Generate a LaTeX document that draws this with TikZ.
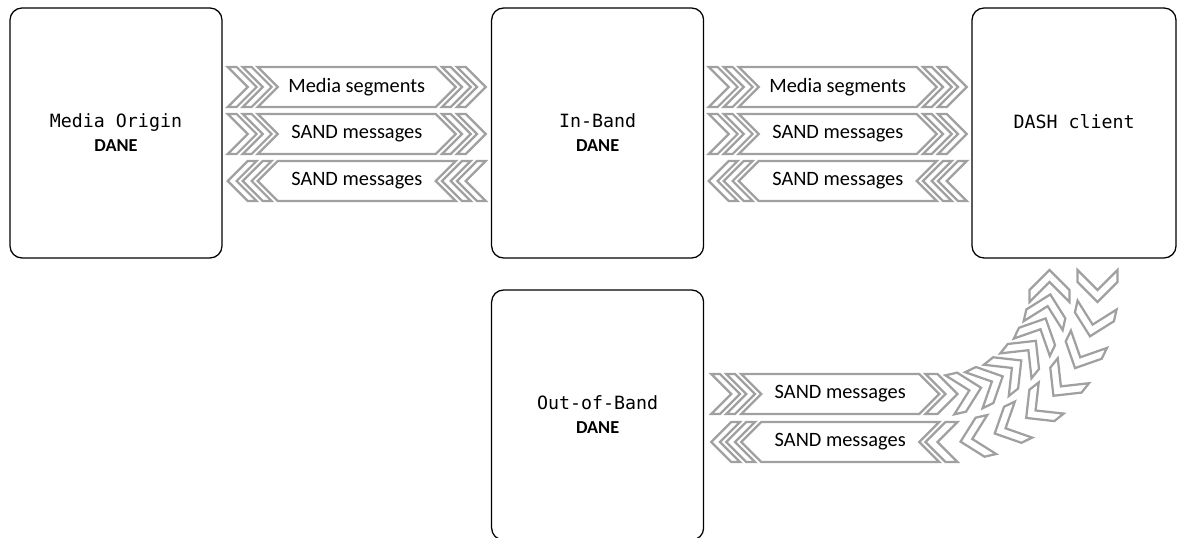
\documentclass[tikz,border=0pt]{standalone}
\usepackage{fontspec}
\setmainfont{Carlito}
\newfontfamily\codefont{DejaVu Sans Mono}
\usetikzlibrary{calc}
\definecolor{bandgray}{RGB}{160,160,160}
\tikzset{l/.style={font=\fontsize{14.5}{14.5}\selectfont}}
\tikzset{
box/.style={draw, line width=0.9pt, rounded corners=0.3cm, minimum width=5.3cm, minimum height=6.25cm, align=center, font=\fontsize{13}{17}\selectfont},
chevline/.style={draw=bandgray, line width=1.6pt, line join=miter}
}
\tikzset{
archev/.pic={\path[chevline] (-0.4,0.5) -- (-0.1,0.5) -- (0.4,0) -- (-0.1,-0.5) -- (-0.4,-0.5) -- (0.1,0) -- cycle;},
lead/.pic={
  \foreach \x in {-2.865,-2.49}
    \path[chevline, shift={(\x,0)}] (-0.36,0.5) -- (-0.14,0.5) -- (0.36,0) -- (-0.14,-0.5) -- (-0.36,-0.5) -- (0.14,0) -- cycle;
  \path[chevline] (-2.475,0.5) -- (1.975,0.5) -- (2.475,0) -- (1.975,-0.5) -- (-2.475,-0.5) -- (-1.975,0) -- cycle;},
tail/.pic={
  \foreach \x in {2.49,2.865}
    \path[chevline, shift={(\x,0)}] (-0.36,0.5) -- (-0.14,0.5) -- (0.36,0) -- (-0.14,-0.5) -- (-0.36,-0.5) -- (0.14,0) -- cycle;
  \path[chevline] (-2.475,0.5) -- (1.975,0.5) -- (2.475,0) -- (1.975,-0.5) -- (-2.475,-0.5) -- (-1.975,0) -- cycle;},
band/.pic={
  \foreach \x in {-2.865,-2.49,2.49,2.865}
    \path[chevline, shift={(\x,0)}] (-0.36,0.5) -- (-0.14,0.5) -- (0.36,0) -- (-0.14,-0.5) -- (-0.36,-0.5) -- (0.14,0) -- cycle;
  \path[chevline] (-2.475,0.5) -- (1.975,0.5) -- (2.475,0) -- (1.975,-0.5) -- (-2.475,-0.5) -- (-1.975,0) -- cycle;}
}

\begin{document}
\begin{tikzpicture}
    \useasboundingbox (0,0) rectangle (29.45,13.425);
    \node[box] (origin) at (2.9,10.1) {{\codefont Media Origin}\\\textbf{DANE}};
    \node[box] (inband) at (14.94,10.1) {{\codefont In-Band}\\\textbf{DANE}};
    \node[box, minimum width=5.1cm] (dash) at (26.85,10.1) {{\codefont DASH client}\\\mbox{}};
    \node[box] (oob) at (14.94,3.05) {{\codefont Out-of-Band}\\\textbf{DANE}};
    % origin <-> in-band
    \coordinate (g1) at ($(origin.east)!0.5!(inband.west)$);
    \pic at ([yshift=1.15cm]g1) {band};
    \node[l] (seg1) at ([yshift=1.15cm]g1) {Media segments};
    \pic at ([yshift=-0.025cm]g1) {band};
    \node[l] (up1) at ([yshift=-0.025cm]g1) {SAND messages};
    \pic[xscale=-1] at ([yshift=-1.2cm]g1) {band};
    \node[l] (dn1) at ([yshift=-1.2cm]g1) {SAND messages};
    % in-band <-> client
    \coordinate (g2) at ($(inband.east)!0.5!(dash.west)$);
    \pic at ([yshift=1.15cm]g2) {band};
    \node[l] (seg2) at ([yshift=1.15cm]g2) {Media segments};
    \pic at ([yshift=-0.025cm]g2) {band};
    \node[l] (up2) at ([yshift=-0.025cm]g2) {SAND messages};
    \pic[xscale=-1] at ([yshift=-1.2cm]g2) {band};
    \node[l] (dn2) at ([yshift=-1.2cm]g2) {SAND messages};
    % out-of-band <-> client, bending up
    \coordinate (oa) at ([xshift=3.4cm,yshift=0.525cm]oob.east);
    \coordinate (ob) at ([xshift=3.4cm,yshift=-0.675cm]oob.east);
    \coordinate (bend) at ($(oa)+(2.53,2.7)$);
    \pic at (oa) {lead};
    \node[l] (up3) at (oa) {SAND messages};
    \pic[xscale=-1] at (ob) {tail};
    \node[l] (dn3) at (ob) {SAND messages};
    \foreach \i in {0,...,7} {
      \pgfmathsetmacro\a{-90+\i*90/7}
      \pic[rotate=\a+90] at ($(bend)+(\a:2.7)$) {archev};
      \pic[rotate=\a-90] at ($(bend)+(\a:3.9)$) {archev};
    }
\end{tikzpicture}
\end{document}
